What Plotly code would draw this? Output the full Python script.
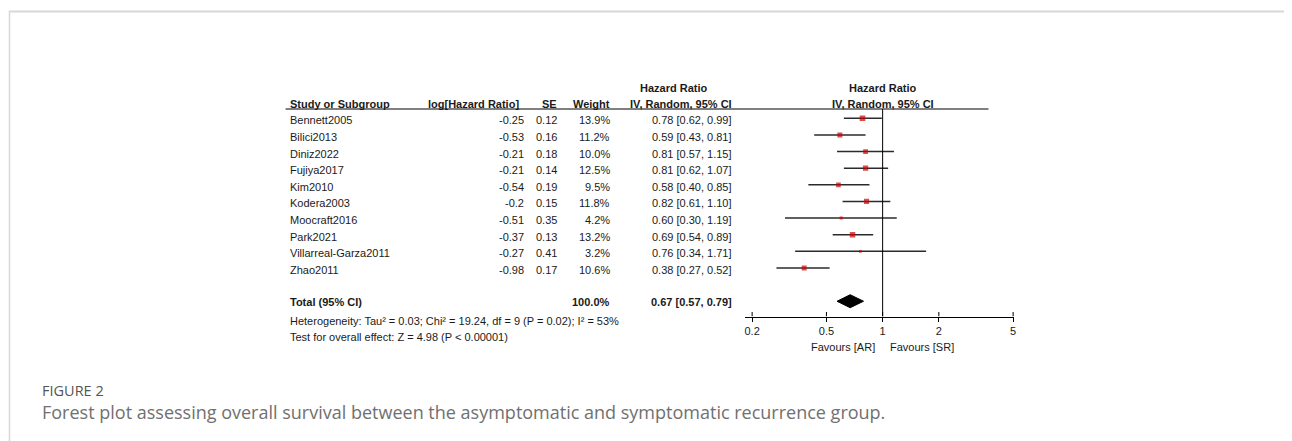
import plotly.graph_objects as go
import math

# ---------------- data ----------------
studies = ["Bennett2005", "Bilici2013", "Diniz2022", "Fujiya2017", "Kim2010",
           "Kodera2003", "Moocraft2016", "Park2021", "Villarreal-Garza2011", "Zhao2011"]
log_hr = [-0.25, -0.53, -0.21, -0.21, -0.54, -0.2, -0.51, -0.37, -0.27, -0.98]
se = [0.12, 0.16, 0.18, 0.14, 0.19, 0.15, 0.35, 0.13, 0.41, 0.17]
weight = [13.9, 11.2, 10.0, 12.5, 9.5, 11.8, 4.2, 13.2, 3.2, 10.6]
hr = [0.78, 0.59, 0.81, 0.81, 0.58, 0.82, 0.60, 0.69, 0.76, 0.38]
ci_lo = [0.62, 0.43, 0.57, 0.62, 0.40, 0.61, 0.30, 0.54, 0.34, 0.27]
ci_hi = [0.99, 0.81, 1.15, 1.07, 0.85, 1.10, 1.19, 0.89, 1.71, 0.52]
total_hr = 0.67
total_lo = 0.57
total_hi = 0.79
total_weight = 100.0
tick_vals = [0.2, 0.5, 1, 2, 5]
tick_text = ["0.2", "0.5", "1", "2", "5"]
heterogeneity = "Heterogeneity: Tau² = 0.03; Chi² = 19.24, df = 9 (P = 0.02); I² = 53%"
overall = "Test for overall effect: Z = 4.98 (P < 0.00001)"
caption_label = "FIGURE 2"
caption = "Forest plot assessing overall survival between the asymptomatic and symptomatic recurrence group."

# ---------------- layout helpers ----------------
OFF = 8                      # default page body margin
W, H = 1292 - OFF, 441 - OFF  # figure size so that it fills the window
ROW0, ROWH = 118.3, 16.63          # page pixel y of first row, row height
Y_TOP_PX, Y_BOT_PX = 109.0, 316.5  # header rule / axis line
X1_PX, PX_DEC = 884.0, 187.0       # page pixel of HR=1 and pixels per decade
X_LEFT_PX, X_RIGHT_PX = 746.0, 1016.0

def px(x):
    return (x - OFF) / W

def py(y):
    return 1 - (y - OFF) / H

r_top = 1 + (Y_TOP_PX - ROW0) / ROWH
r_bot = 1 + (Y_BOT_PX - ROW0) / ROWH
total_row = len(studies) + 2

rows = list(range(1, len(studies) + 1))

TXT = "#1a1a1a"
FONT = "Arial, Liberation Sans, sans-serif"

fig = go.Figure()

# CI lines
cx, cy = [], []
for r, a, b in zip(rows, ci_lo, ci_hi):
    cx += [a, b, None]
    cy += [r, r, None]
fig.add_trace(go.Scatter(x=cx, y=cy, mode="lines",
                         line=dict(color="#2b2b2b", width=1.5),
                         hoverinfo="skip", showlegend=False))

# point estimates (size ~ sqrt(weight))
fig.add_trace(go.Scatter(x=hr, y=rows, mode="markers",
                         marker=dict(symbol="square", color="#cc0000",
                                     size=[1.5 * math.sqrt(w) for w in weight],
                                     line=dict(width=0)),
                         showlegend=False))

# diamond for total
dh = 6.5 / ROWH
fig.add_trace(go.Scatter(x=[total_lo, total_hr, total_hi, total_hr, total_lo],
                         y=[total_row, total_row - dh, total_row, total_row + dh, total_row],
                         mode="lines", fill="toself", fillcolor="#000000",
                         line=dict(color="#000000", width=1),
                         hoverinfo="skip", showlegend=False))

shapes = []
# null line
shapes.append(dict(type="line", xref="x", yref="y", x0=1, x1=1, y0=r_top, y1=r_bot,
                   line=dict(color="#000000", width=1)))
# upper halves of the ticks
for t in tick_vals:
    shapes.append(dict(type="line", xref="x", yref="y", x0=t, x1=t,
                       y0=r_bot, y1=r_bot - 4.5 / ROWH,
                       line=dict(color="#000000", width=1)))
# header rule
shapes.append(dict(type="line", xref="paper", yref="paper", x0=px(286), x1=px(990),
                   y0=py(Y_TOP_PX), y1=py(Y_TOP_PX), line=dict(color="#000000", width=1)))
# frame (top & left)
shapes.append(dict(type="line", xref="paper", yref="paper", x0=px(9), x1=1,
                   y0=py(11.5), y1=py(11.5), line=dict(color="#d8d8d8", width=2)))
shapes.append(dict(type="line", xref="paper", yref="paper", x0=px(9.5), x1=px(9.5),
                   y0=0, y1=py(11), line=dict(color="#d8d8d8", width=1.5)))

ann = []

def text(x, y, s, anchor="left", bold=False, size=11, yref="paper", yshift=0,
         color=TXT, family=FONT):
    ann.append(dict(x=x, y=y, xref="paper", yref=yref, text=("<b>%s</b>" % s) if bold else s,
                    showarrow=False, xanchor=anchor, yanchor="middle", yshift=yshift,
                    font=dict(family=family, size=size, color=color)))

# headers
text(px(675), py(87.5), "Hazard Ratio", "center", True)
text(px(884), py(87.5), "Hazard Ratio", "center", True)
text(px(288), py(104), "Study or Subgroup", "left", True)
text(px(522), py(104), "log[Hazard Ratio]", "right", True)
text(px(560), py(104), "SE", "right", True)
text(px(613), py(104), "Weight", "right", True)
text(px(735), py(104), "IV, Random, 95% CI", "right", True)
text(px(884), py(104), "IV, Random, 95% CI", "center", True)

# study rows
for r, s, l, e, w, h, a, b in zip(rows, studies, log_hr, se, weight, hr, ci_lo, ci_hi):
    text(px(288), r, s, "left", yref="y", yshift=-2)
    text(px(527), r, str(l), "right", yref="y", yshift=-2)
    text(px(560), r, "%.2f" % e, "right", yref="y", yshift=-2)
    text(px(613), r, "%.1f%%" % w, "right", yref="y", yshift=-2)
    text(px(735), r, "%.2f [%.2f, %.2f]" % (h, a, b), "right", yref="y", yshift=-2)

# total
text(px(288), total_row, "Total (95% CI)", "left", True, yref="y", yshift=-1)
text(px(613), total_row, "%.1f%%" % total_weight, "right", True, yref="y", yshift=-1)
text(px(735), total_row, "%.2f [%.2f, %.2f]" % (total_hr, total_lo, total_hi), "right", True,
     yref="y", yshift=-1)
text(px(288), py(320.5), heterogeneity, "left")
text(px(288), py(336.5), overall, "left")

# favours
text(px(878), py(346.5), "Favours [AR]", "right")
text(px(889), py(346.5), "Favours [SR]", "left")

# caption
text(px(40), py(390), caption_label, "left", size=14.5, color="#555555",
     family="Open Sans, sans-serif")
text(px(40), py(412), caption, "left", size=18, color="#707070",
     family="Open Sans, sans-serif")

fig.update_layout(
    width=W, height=H, autosize=False,
    margin=dict(l=0, r=0, t=0, b=0),
    paper_bgcolor="white", plot_bgcolor="white",
    shapes=shapes, annotations=ann,
    showlegend=False,
    xaxis=dict(type="log",
               range=[(X_LEFT_PX - X1_PX) / PX_DEC, (X_RIGHT_PX - X1_PX) / PX_DEC],
               domain=[px(X_LEFT_PX), px(X_RIGHT_PX)],
               showgrid=False, zeroline=False, showline=True, linecolor="#000000",
               linewidth=1, ticks="outside", ticklen=4, tickcolor="#000000",
               tickvals=tick_vals, ticktext=tick_text,
               tickfont=dict(family=FONT, size=11, color=TXT), fixedrange=True),
    yaxis=dict(range=[r_bot, r_top], domain=[py(Y_BOT_PX), py(Y_TOP_PX)],
               visible=False, showgrid=False, zeroline=False, fixedrange=True),
)

fig.write_html("out.html")
